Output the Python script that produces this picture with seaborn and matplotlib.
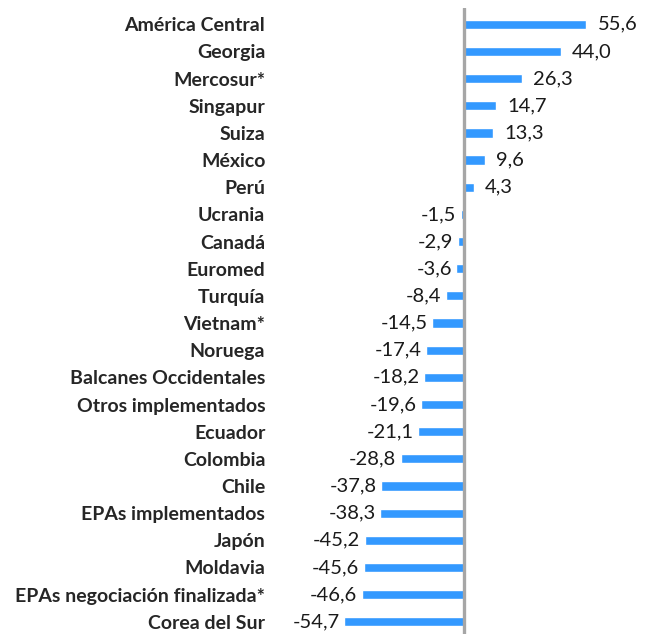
import pandas as pd
import seaborn as sns
import matplotlib.pyplot as plt

categorias = ['América Central', 'Georgia', 'Mercosur*', 'Singapur', 'Suiza', 'México', 'Perú',
              'Ucrania', 'Canadá', 'Euromed', 'Turquía', 'Vietnam*', 'Noruega',
              'Balcanes Occidentales', 'Otros implementados', 'Ecuador', 'Colombia', 'Chile',
              'EPAs implementados', 'Japón', 'Moldavia', 'EPAs negociación finalizada*',
              'Corea del Sur']
valores = [55.6, 44.0, 26.3, 14.7, 13.3, 9.6, 4.3, -1.5, -2.9, -3.6, -8.4, -14.5, -17.4,
           -18.2, -19.6, -21.1, -28.8, -37.8, -38.3, -45.2, -45.6, -46.6, -54.7]

df = pd.DataFrame({'acuerdo': categorias, 'valor': valores})

sns.set_style('white')
plt.rcParams['font.family'] = ['Lato', 'DejaVu Sans']

fig = plt.figure(figsize=(6.48, 6.34), dpi=100)
ax = fig.add_axes([275 / 648, 0, 373 / 648, 626 / 634])

sns.barplot(data=df, y='acuerdo', x='valor', orient='h', color='#3399FF',
            width=0.34, saturation=1, ax=ax)

ax.set_xlim(-86, 83.6)
ax.set_ylim(22.45, -0.6)
ax.axvline(0, color='#A6A6A6', linewidth=2.4, zorder=3)

for i, v in enumerate(valores):
    txt = f'{v:.1f}'.replace('.', ',')
    if v >= 0:
        ax.text(v + 5, i, txt, va='center', ha='left', fontsize=14.5, color='#1a1a1a')
    else:
        ax.text(v - 2, i, txt, va='center', ha='right', fontsize=14.5, color='#1a1a1a')

ax.set_xlabel('')
ax.set_ylabel('')
ax.set_xticks([])
ax.tick_params(axis='y', length=0, pad=7)
for lab in ax.get_yticklabels():
    lab.set_fontweight('bold')
    lab.set_fontsize(14)
    lab.set_color('#262626')
sns.despine(ax=ax, left=True, bottom=True)

fig.savefig('out.png', dpi=100)
